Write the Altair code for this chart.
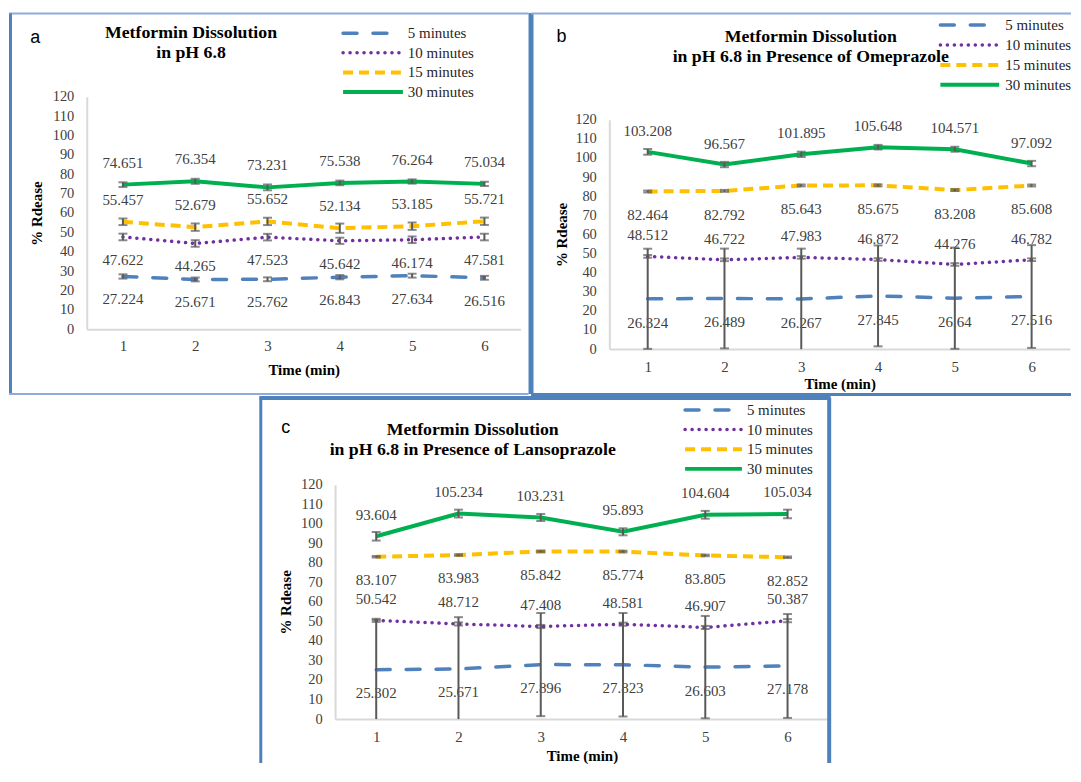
import altair as alt
import pandas as pd

# ---------------- data ----------------
TIME = [1, 2, 3, 4, 5, 6]
SERIES = ["5 minutes", "10 minutes", "15 minutes", "30 minutes"]
Y_TICKS = [0, 10, 20, 30, 40, 50, 60, 70, 80, 90, 100, 110, 120]

A_5 = [27.224, 25.671, 25.762, 26.843, 27.634, 26.516]
A_10 = [47.622, 44.265, 47.523, 45.642, 46.174, 47.581]
A_15 = [55.457, 52.679, 55.652, 52.134, 53.185, 55.721]
A_30 = [74.651, 76.354, 73.231, 75.538, 76.264, 75.034]
A_ERR_5 = [1.1, 1.0, 1.0, 1.1, 1.0, 1.0]
A_ERR_10 = [1.7, 1.7, 1.7, 1.6, 1.7, 1.7]
A_ERR_15 = [1.7, 1.9, 1.9, 2.4, 1.9, 1.9]
A_ERR_30 = [1.2, 1.3, 1.5, 1.2, 1.1, 1.1]

B_5 = [26.324, 26.489, 26.267, 27.845, 26.64, 27.516]
B_10 = [48.512, 46.722, 47.983, 46.872, 44.276, 46.782]
B_15 = [82.464, 82.792, 85.643, 85.675, 83.208, 85.608]
B_30 = [103.208, 96.567, 101.895, 105.648, 104.571, 97.092]
B_ERR_5 = [26.2, 26.1, 26.3, 26.4, 26.5, 26.9]
B_ERR_10 = [0.7, 0.7, 0.7, 0.7, 0.7, 0.7]
B_ERR_15 = [0.5, 0.5, 0.5, 0.5, 0.5, 0.5]
B_ERR_30 = [1.5, 1.4, 1.4, 1.2, 1.3, 1.4]

C_5 = [25.302, 25.671, 27.896, 27.823, 26.603, 27.178]
C_10 = [50.542, 48.712, 47.408, 48.581, 46.907, 50.387]
C_15 = [83.107, 83.983, 85.842, 85.774, 83.805, 82.852]
C_30 = [93.604, 105.234, 103.231, 95.893, 104.604, 105.034]
C_ERR_5 = [25.4, 26.5, 26.4, 26.5, 26.2, 26.6]
C_ERR_10 = [0.8, 0.8, 0.8, 0.8, 0.8, 0.8]
C_ERR_15 = [0.4, 0.4, 0.4, 0.4, 0.4, 0.4]
C_ERR_30 = [2.2, 2.0, 1.8, 1.8, 2.0, 2.2]

TITLE_A = ["Metformin Dissolution", "in pH 6.8"]
TITLE_B = ["Metformin Dissolution", "in pH 6.8 in Presence of Omeprazole"]
TITLE_C = ["Metformin Dissolution", "in pH 6.8 in Presence of Lansoprazole"]

# ---------------- style ----------------
SERIF = "Liberation Serif"
SANS = "Liberation Sans"
BORDER = "#4F81BD"
BORDER_LIGHT = "#8FAADC"
ERR = "#595959"
LABEL = "#404040"
AXIS_LINE = "#D9D9D9"
FRAME_W, FRAME_H = 1065, 756

STYLE = {
    "5 minutes": dict(color="#4F81BD", strokeDash=[14, 16], strokeCap="round", strokeWidth=3.5),
    "10 minutes": dict(color="#7030A0", strokeDash=[0.1, 6.9], strokeCap="round", strokeWidth=3.5),
    "15 minutes": dict(color="#FFC000", strokeDash=[10, 6], strokeCap="butt", strokeWidth=4),
    "30 minutes": dict(color="#00B050", strokeCap="butt", strokeWidth=4),
}


def panel(vals, errs, above, title_lines, letter, g):
    rows = []
    for s in SERIES:
        for t, v, e in zip(TIME, vals[s], errs[s]):
            rows.append(dict(time=t, series=s, value=v, lo=v - e, hi=v + e, label=str(v)))
    df = pd.DataFrame(rows)
    x0, x1 = g["xr"]
    yb, yt = g["yr"]

    xscale = alt.Scale(type="point", domain=TIME, range=[x0, x1], padding=0.5)
    xaxis = alt.Axis(title="Time (min)", orient="bottom", offset=yb - FRAME_H,
                     labelAngle=0, ticks=False, tickSize=0, grid=False,
                     domainColor=AXIS_LINE, domainWidth=2,
                     labelFont=SERIF, labelFontSize=15, labelColor=LABEL, labelPadding=g["xlp"],
                     titleFont=SERIF, titleFontSize=15, titleFontWeight="bold", titleColor="black",
                     titlePadding=g["xtp"])
    yscale = alt.Scale(domain=[0, 120], range=[yb, yt], nice=False, clamp=True)
    yaxis = alt.Axis(title="% Rdease", orient="left", offset=-x0,
                     values=Y_TICKS, ticks=False, tickSize=0, grid=False,
                     domainColor=AXIS_LINE, domainWidth=2, labelOverlap=False,
                     labelFont=SERIF, labelFontSize=14.5, labelColor=LABEL, labelPadding=g["ylp"],
                     titleFont=SERIF, titleFontSize=15, titleFontWeight="bold", titleColor="black",
                     titlePadding=g["ytp"])
    X = alt.X("time:O", scale=xscale, axis=xaxis, title="Time (min)")

    def Y(f):
        return alt.Y(f"{f}:Q", scale=yscale, axis=yaxis, title="% Rdease")

    one = pd.DataFrame({"k": [0]})
    base = alt.Chart(df)
    layers = []

    # panel frame
    for (bx1, bx2, by1, by2, w, c) in g["borders"]:
        enc = dict(x=alt.value(bx1), y=alt.value(by1))
        if bx2 is not None:
            enc["x2"] = alt.value(bx2)
        if by2 is not None:
            enc["y2"] = alt.value(by2)
        layers.append(alt.Chart(one).mark_rule(color=c, strokeWidth=w).encode(**enc))

    # series lines
    for s in SERIES:
        layers.append(base.transform_filter(alt.datum.series == s)
                      .mark_line(**STYLE[s]).encode(x=X, y=Y("value")))

    # data labels
    up = [s for s in SERIES if s in above]
    down = [s for s in SERIES if s not in above]
    layers.append(base.transform_filter(alt.FieldOneOfPredicate(field="series", oneOf=up))
                  .mark_text(font=SERIF, fontSize=15, color=LABEL, baseline="middle", dy=g["dup"])
                  .encode(x=X, y=Y("value"), text="label:N"))
    layers.append(base.transform_filter(alt.FieldOneOfPredicate(field="series", oneOf=down))
                  .mark_text(font=SERIF, fontSize=15, color=LABEL, baseline="middle", dy=g["ddown"])
                  .encode(x=X, y=Y("value"), text="label:N"))

    # error bars (stems clamp at the axis, low caps hidden below it)
    layers.append(base.mark_rule(color=ERR, strokeWidth=2)
                  .encode(x=X, y=Y("lo"), y2="hi:Q"))
    layers.append(base.transform_filter("datum.lo >= 0")
                  .mark_tick(color=ERR, size=9, thickness=2)
                  .encode(x=X, y=Y("lo")))
    layers.append(base.mark_tick(color=ERR, size=9, thickness=2)
                  .encode(x=X, y=Y("hi")))

    # legend
    lx1, lx2, ltx, ly0, lgap = g["legend"]
    for i, s in enumerate(SERIES):
        yy = ly0 + i * lgap
        d = pd.DataFrame({"series": [s]})
        layers.append(alt.Chart(d).mark_rule(**STYLE[s])
                      .encode(x=alt.value(lx1), x2=alt.value(lx2), y=alt.value(yy)))
        layers.append(alt.Chart(d).mark_text(font=SERIF, fontSize=15, color="#262626",
                                             align="left", baseline="middle")
                      .encode(x=alt.value(ltx), y=alt.value(yy), text="series:N"))

    # title and panel letter
    tx, ty, lh = g["title"]
    layers.append(alt.Chart(one).mark_text(font=SERIF, fontSize=17.8, fontWeight="bold", color="black",
                                           align="center", baseline="alphabetic", lineHeight=lh)
                  .encode(x=alt.value(tx), y=alt.value(ty), text=alt.value(title_lines)))
    lx, ly = g["letter"]
    layers.append(alt.Chart(one).mark_text(font=SANS, fontSize=18, color="black",
                                           align="center", baseline="alphabetic")
                  .encode(x=alt.value(lx), y=alt.value(ly), text=alt.value(letter)))

    return alt.layer(*layers)


# geometry in page pixels minus the 8px page margin
GA = dict(xr=(78, 513), yr=(321, 88), xlp=9, xtp=9, ylp=13, ytp=8, dup=-22, ddown=23,
          letter=(26.3, 34.3), title=(182.5, 29.5, 19.5),
          legend=(335, 395, 400, 24.3, 19.6),
          borders=[(0, 521, 4.5, None, 2, BORDER_LIGHT),
                   (1.5, None, 4.5, 386, 3, BORDER),
                   (0, 521, 386, None, 2, BORDER_LIGHT)])
GB = dict(xr=(602, 1064), yr=(341, 111), xlp=10.5, xtp=2.5, ylp=13, ytp=5.5, dup=-21, ddown=24,
          letter=(554, 32.7), title=(804, 33, 20),
          legend=(934, 993, 999, 16, 20),
          borders=[(523.5, None, 4, 386, 5, BORDER),
                   (523.5, FRAME_W, 4.5, None, 2, BORDER_LIGHT),
                   (523.5, FRAME_W, 386.5, None, 3, BORDER)])
GC = dict(xr=(327, 822), yr=(712, 477), xlp=10, xtp=5, ylp=13, ytp=7, dup=-21.5, ddown=23.5,
          letter=(277.5, 425), title=(465, 427.5, 20),
          legend=(678, 735, 740, 402, 19.7),
          borders=[(251, 824, 390, None, 4, BORDER),
                   (252.5, None, 390, FRAME_H, 3, BORDER),
                   (822.5, None, 390, FRAME_H, 4, BORDER)])

vals_a = dict(zip(SERIES, [A_5, A_10, A_15, A_30]))
errs_a = dict(zip(SERIES, [A_ERR_5, A_ERR_10, A_ERR_15, A_ERR_30]))
vals_b = dict(zip(SERIES, [B_5, B_10, B_15, B_30]))
errs_b = dict(zip(SERIES, [B_ERR_5, B_ERR_10, B_ERR_15, B_ERR_30]))
vals_c = dict(zip(SERIES, [C_5, C_10, C_15, C_30]))
errs_c = dict(zip(SERIES, [C_ERR_5, C_ERR_10, C_ERR_15, C_ERR_30]))

pa = panel(vals_a, errs_a, {"30 minutes", "15 minutes"}, TITLE_A, "a", GA)
pb = panel(vals_b, errs_b, {"30 minutes", "10 minutes"}, TITLE_B, "b", GB)
pc = panel(vals_c, errs_c, {"30 minutes", "10 minutes"}, TITLE_C, "c", GC)

chart = (alt.layer(pa, pb, pc)
         .resolve_scale(x="independent", y="independent")
         .resolve_axis(x="independent", y="independent")
         .properties(width=FRAME_W, height=FRAME_H, padding=0, background="white")
         .configure_view(strokeWidth=0))

chart.save("out.html", embed_options={"renderer": "svg", "actions": False})
